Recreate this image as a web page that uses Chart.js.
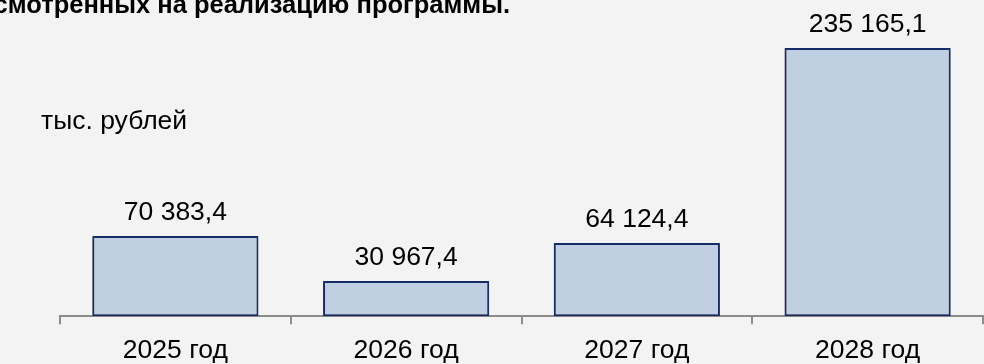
<!DOCTYPE html>
<html lang="ru">
<head>
<meta charset="utf-8">
<title>Финансирование программы</title>
<script src="https://cdn.jsdelivr.net/npm/chart.js@4.4.1/dist/chart.umd.min.js"></script>
<style>
    html, body { margin: 0; padding: 0; background: #f3f3f3; }
    #wrap { width: 984px; height: 364px; position: relative; }
</style>
</head>
<body>
<div id="wrap"><canvas id="fundingChart" width="984" height="364"></canvas></div>
<script>
// Объем финансирования по годам, тыс. рублей
const years = ['2025 год', '2026 год', '2027 год', '2028 год'];
const amounts = [70383.4, 30967.4, 64124.4, 235165.1];
const valueLabels = ['70 383,4', '30 967,4', '64 124,4', '235 165,1'];

const titleText = 'предусмотренных на реализацию программы.';
const unitText = 'тыс. рублей';

const FONT = '"Liberation Sans", Arial, Helvetica, sans-serif';

// Фон, заголовок, подпись единиц и значения над столбцами
const decorations = {
    id: 'decorations',
    beforeDraw(chart) {
        const ctx = chart.ctx;
        ctx.save();
        ctx.fillStyle = '#f3f3f3';
        ctx.fillRect(0, 0, chart.width, chart.height);
        ctx.restore();
    },
    beforeDatasetsDraw(chart) {
        const ctx = chart.ctx;
        ctx.save();
        ctx.shadowColor = 'rgba(0, 0, 0, 0.3)';
        ctx.shadowBlur = 4;
        ctx.shadowOffsetX = -1;
        ctx.shadowOffsetY = 1;
    },
    afterDatasetsDraw(chart) {
        const ctx = chart.ctx;
        ctx.restore();
        ctx.save();
        ctx.fillStyle = '#000';
        ctx.textBaseline = 'alphabetic';

        ctx.font = 'bold 25.5px ' + FONT;
        ctx.textAlign = 'right';
        ctx.fillText(titleText, 510, 13);

        ctx.font = '26.5px ' + FONT;
        ctx.textAlign = 'left';
        ctx.fillText(unitText, 41, 129);

        ctx.textAlign = 'center';
        chart.getDatasetMeta(0).data.forEach((bar, i) => {
            ctx.fillText(valueLabels[i], bar.x, bar.y - 16);
        });
        ctx.restore();
    }
};

new Chart(document.getElementById('fundingChart'), {
    type: 'bar',
    data: {
        labels: years,
        datasets: [{
            data: amounts,
            backgroundColor: '#c0cfe2',
            borderColor: '#172f6b',
            borderWidth: 2,
            borderSkipped: false,
            categoryPercentage: 0.72,
            barPercentage: 1
        }]
    },
    options: {
        responsive: false,
        animation: false,
        layout: { padding: { left: 60, right: 1, top: 48, bottom: -14 } },
        plugins: {
            legend: { display: false },
            tooltip: { enabled: false }
        },
        scales: {
            x: {
                offset: true,
                border: { color: '#8c8c8c', width: 2 },
                grid: {
                    offset: true,
                    drawOnChartArea: false,
                    color: '#8c8c8c',
                    lineWidth: 2,
                    tickLength: 8
                },
                ticks: {
                    color: '#000',
                    padding: 11,
                    font: { family: FONT, size: 26.5 }
                }
            },
            y: {
                display: false,
                min: 0,
                max: 235165.1
            }
        }
    },
    plugins: [decorations]
});
</script>
</body>
</html>
